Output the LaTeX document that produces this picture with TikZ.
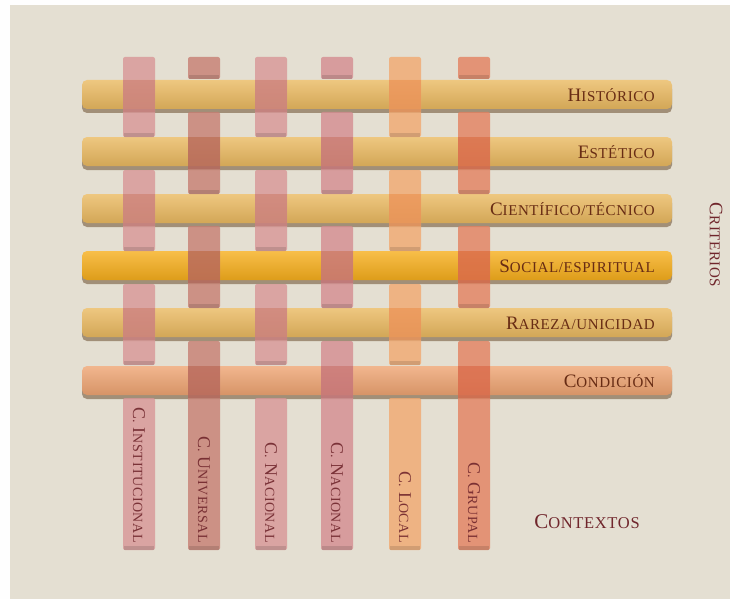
\documentclass[tikz,border=0pt]{standalone}
\usepackage{fontspec}
\newfontfamily\trajan{Liberation Serif}[LetterSpace=4.0]

\definecolor{paper}{RGB}{228,223,210}
\definecolor{gold}{RGB}{234,185,96}
\definecolor{amber}{RGB}{246,174,28}
\definecolor{salmon}{RGB}{238,164,114}
\definecolor{rose}{RGB}{216,150,150}
\definecolor{clay}{RGB}{198,126,114}
\definecolor{rosedeep}{RGB}{212,140,144}
\definecolor{apricot}{RGB}{241,168,112}
\definecolor{coral}{RGB}{227,128,96}
\definecolor{ink}{RGB}{104,44,20}
\definecolor{wine}{RGB}{112,38,44}

% large initial followed by small capitals
\newcommand\trj[4]{{\fontsize{#1}{#1}\selectfont#3}{\fontsize{#2}{#2}\selectfont#4}}
\newcommand\ctx[1]{\trj{18}{14}{C}{.}\hspace{5pt}#1}

\tikzset{
  barshadow/.style={fill=black!50!brown, opacity=.5, rounded corners=5pt},
  barbody/.style={rounded corners=5pt},
  seg/.style={opacity=.8, rounded corners=2pt},
  segtint/.style={blend mode=multiply, opacity=.28},
  segshade/.style={fill=black, opacity=.12},
  barlabel/.style={anchor=east, text=ink, inner sep=0pt, font=\trajan},
  collabel/.style={rotate=-90, anchor=east, text=wine, text opacity=.9,
    inner sep=0pt, font=\trajan},
  sidelabel/.style={text=wine, inner sep=0pt, font=\trajan},
}

\begin{document}
\begin{tikzpicture}[x=1pt,y=-1pt]
  \useasboundingbox (0,0) rectangle (730,599);

  % paper background with a thin white margin
  \fill[white!97!paper] (0,0) rectangle (730,599);
  \fill[paper] (10,5) rectangle (730,599);

  % horizontal criteria bars
  \foreach \y/\c in {95/gold, 152/gold, 209/gold, 266/amber, 323/gold, 381/salmon} {
    \fill[barshadow] (82,\y-11) rectangle (672,\y+18);
    \shade[barbody, top color=\c!80!white, middle color=\c, bottom color=\c!90!black]
      (82,\y-15) rectangle (672,\y+14);
  }

  % vertical context strips, woven over and under the bars
  \foreach \x/\c in {123/rose, 255/rose, 389/apricot} {
    \foreach \a/\b in {57/137, 170/251, 284/365, 398/550} {
      \fill[seg, fill=\c] (\x,\a) rectangle (\x+32,\b);
      \fill[segshade] (\x+1,\b-4) rectangle (\x+31,\b);
    }
    \foreach \y in {95, 209, 323}
      \fill[segtint, fill=\c] (\x,\y-15) rectangle (\x+32,\y+17);
  }
  \foreach \x/\c in {188/clay, 321/rosedeep, 458/coral} {
    \foreach \a/\b in {57/79, 112/194, 226/308, 341/550} {
      \fill[seg, fill=\c] (\x,\a) rectangle (\x+32,\b);
      \fill[segshade] (\x+1,\b-4) rectangle (\x+31,\b);
    }
    \foreach \y in {152, 266, 381}
      \fill[segtint, fill=\c] (\x,\y-15) rectangle (\x+32,\y+17);
  }

  % bar labels
  \node[barlabel] (lhist) at (655,95) {\trj{19}{15}{H}{ISTÓRICO}};
  \node[barlabel] (lest)  at (655,152) {\trj{19}{15}{E}{STÉTICO}};
  \node[barlabel] (lcien) at (655,209) {\trj{19}{15}{C}{IENTÍFICO/TÉCNICO}};
  \node[barlabel] (lsoc)  at (655,266) {\trj{19}{15}{S}{OCIAL/ESPIRITUAL}};
  \node[barlabel] (lrar)  at (655,323) {\trj{19}{15}{R}{AREZA/UNICIDAD}};
  \node[barlabel] (lcond) at (655,381) {\trj{19}{15}{C}{ONDICIÓN}};

  % strip labels
  \node[collabel] (cinst) at (139,543) {\ctx{\trj{18}{14}{I}{NSTITUCIONAL}}};
  \node[collabel] (cuniv) at (204,543) {\ctx{\trj{18}{14}{U}{NIVERSAL}}};
  \node[collabel] (cnac)  at (271,543) {\ctx{\trj{18}{14}{N}{ACIONAL}}};
  \node[collabel] (cnacb) at (337,543) {\ctx{\trj{18}{14}{N}{ACIONAL}}};
  \node[collabel] (cloc)  at (405,543) {\ctx{\trj{18}{14}{L}{OCAL}}};
  \node[collabel] (cgrup) at (474,543) {\ctx{\trj{18}{14}{G}{RUPAL}}};

  \node[sidelabel, rotate=-90] (crit) at (716,245) {\trj{19}{15}{C}{RITERIOS}};
  \node[sidelabel] (ctx) at (587,522) {\trj{21}{16.5}{C}{ONTEXTOS}};
\end{tikzpicture}
\end{document}
